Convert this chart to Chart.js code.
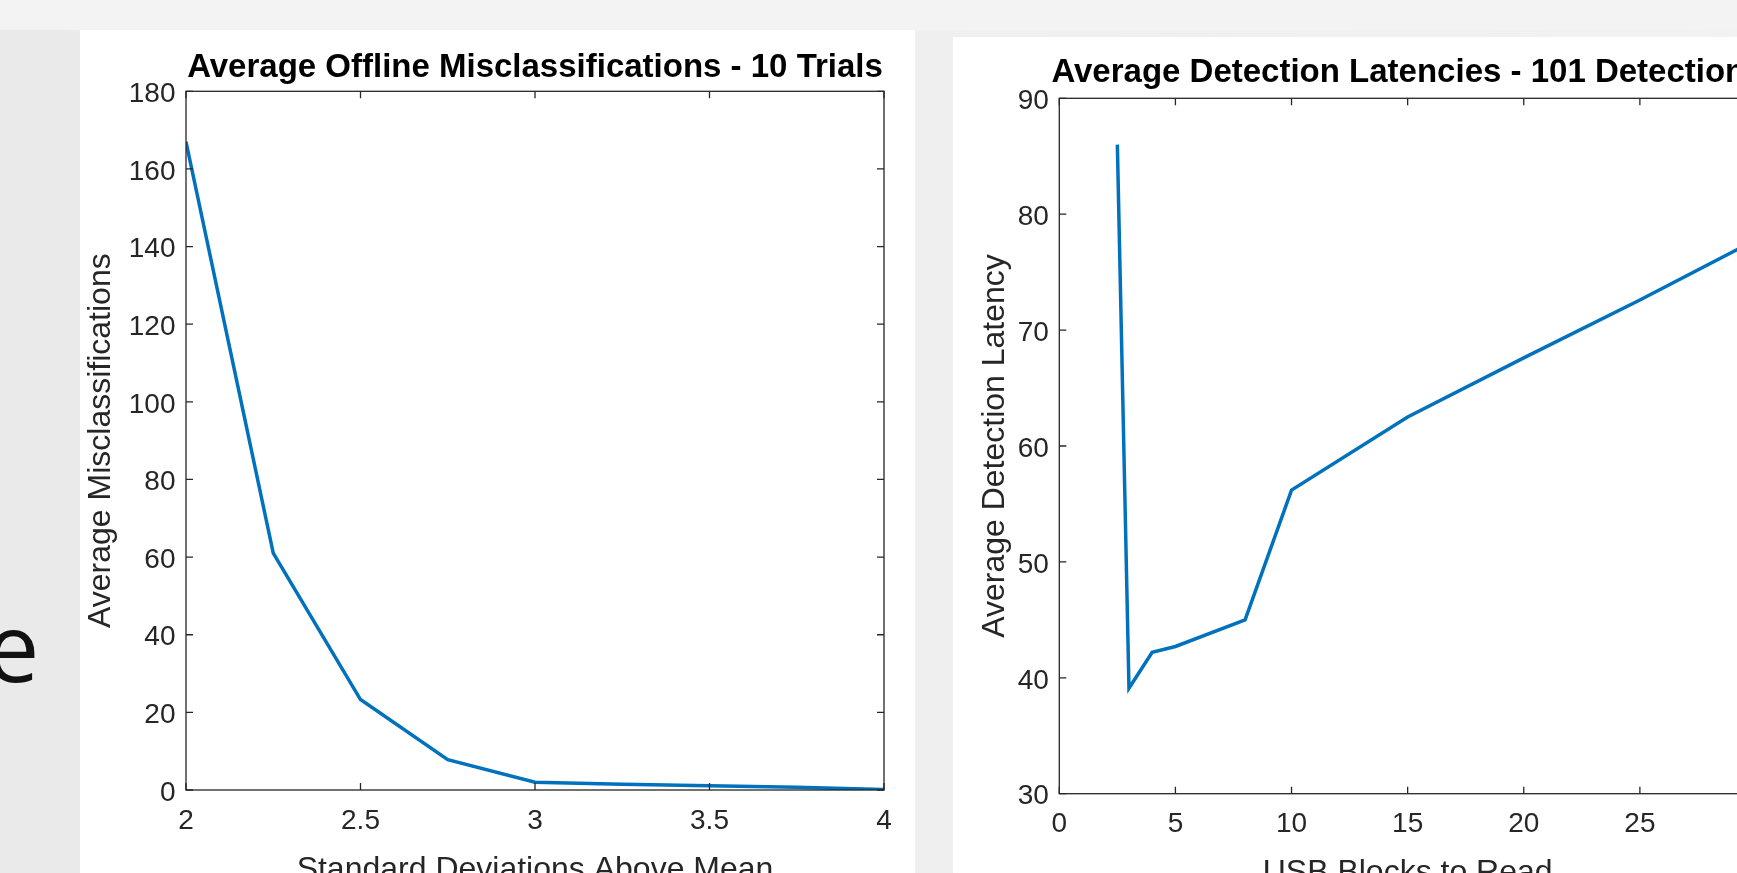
<!DOCTYPE html>
<html>
<head>
<meta charset="utf-8">
<script src="https://cdn.jsdelivr.net/npm/chart.js@4.4.1/dist/chart.umd.min.js"></script>
<style>
  html, body { margin: 0; padding: 0; }
  body {
    width: 1737px; height: 873px; overflow: hidden; position: relative;
    background: linear-gradient(90deg, #eaeaea 0%, #efefef 50%, #f2f2f2 100%);
    font-family: "Liberation Sans", Arial, sans-serif;
  }
  .topband { position: absolute; left: 0; top: 0; width: 1737px; height: 30px; background: #f3f3f3; }
  .panel { position: absolute; background: #fff; }
  #panelL { left: 80px; top: 30px; width: 835px; height: 843px; }
  #panelR { left: 953px; top: 37px; width: 784px; height: 836px; }
  .glyph { position: absolute; left: -14px; top: 598px; font-family: "Open Sans", sans-serif; font-size: 95px; line-height: 1; color: #111; }
  canvas { position: absolute; top: 0; }
  #estudiantes { left: 0; }
  #latencias { left: 950px; }
</style>
</head>
<body>
<div class="topband"></div>
<div class="panel" id="panelL"></div>
<div class="panel" id="panelR"></div>
<div class="glyph">e</div>
<canvas id="estudiantes" width="1070" height="900"></canvas>
<canvas id="latencias" width="915" height="900"></canvas>
<script>
// datos grafico izquierdo
const desviaciones = [2, 2.25, 2.5, 2.75, 3, 3.25, 3.5, 3.75, 4];
const errores = [167, 61, 23.3, 7.8, 2.0, 1.5, 1.1, 0.7, 0.1];
const ticksDesv = [2, 2.5, 3, 3.5, 4];
const ticksErrores = [0, 20, 40, 60, 80, 100, 120, 140, 160, 180];

// datos grafico derecho
const bloques = [2.5, 3, 4, 5, 8, 10, 15, 20, 25, 30];
const latencia = [86, 39.1, 42.2, 42.7, 45, 56.2, 62.5, 67.6, 72.6, 77.8];
const ticksBloques = [0, 5, 10, 15, 20, 25, 30];
const ticksLatencia = [30, 40, 50, 60, 70, 80, 90];

const azul = "#0072BD";
const gris = "#262626";

// caja y marcas hacia adentro (estilo matlab)
const cajaEjes = {
  id: "cajaEjes",
  afterDatasetsDraw(chart) {
    const { ctx, chartArea: a, scales } = chart;
    const x = scales.x, y = scales.y;
    ctx.save();
    ctx.strokeStyle = gris;
    ctx.lineWidth = 1.3;
    ctx.strokeRect(a.left, a.top, a.right - a.left, a.bottom - a.top);
    ctx.beginPath();
    x.ticks.forEach((t) => {
      const px = x.getPixelForValue(t.value);
      ctx.moveTo(px, a.bottom); ctx.lineTo(px, a.bottom - 7);
      ctx.moveTo(px, a.top); ctx.lineTo(px, a.top + 7);
    });
    y.ticks.forEach((t) => {
      const py = y.getPixelForValue(t.value);
      ctx.moveTo(a.left, py); ctx.lineTo(a.left + 7, py);
      ctx.moveTo(a.right, py); ctx.lineTo(a.right - 7, py);
    });
    ctx.stroke();
    ctx.restore();
  },
};

function puntos(xs, ys) {
  return xs.map((v, i) => ({ x: v, y: ys[i] }));
}

function opciones(cfg) {
  return {
    responsive: false,
    animation: false,
    devicePixelRatio: 1,
    layout: { padding: cfg.padding },
    plugins: {
      legend: { display: false },
      tooltip: { enabled: false },
      title: {
        display: true,
        text: cfg.titulo,
        color: "#000",
        font: { family: "Liberation Sans", size: 33, weight: "bold" },
        padding: cfg.titlePad,
      },
    },
    scales: {
      x: {
        type: "linear",
        min: cfg.xMin,
        max: cfg.xMax,
        afterBuildTicks: (s) => { s.ticks = cfg.xTicks.map((v) => ({ value: v })); },
        afterFit: (s) => { s.height = 100; },
        grid: { display: false, drawTicks: false },
        border: { display: false },
        ticks: {
          color: gris, padding: 14, maxRotation: 0, autoSkip: false,
          font: { family: "Liberation Sans", size: 28 },
          callback: (v) => String(v),
        },
        title: {
          display: true,
          text: cfg.xTitulo,
          color: gris,
          font: { family: "Liberation Sans", size: 32 },
          padding: { top: 0, bottom: 1 },
        },
      },
      y: {
        min: cfg.yMin,
        max: cfg.yMax,
        afterBuildTicks: (s) => { s.ticks = cfg.yTicks.map((v) => ({ value: v })); },
        afterFit: (s) => { s.width = cfg.yAncho; },
        grid: { display: false, drawTicks: false },
        border: { display: false },
        ticks: {
          color: gris, padding: 10.5, autoSkip: false, labelOffset: 3,
          font: { family: "Liberation Sans", size: 28 },
          callback: (v) => String(v),
        },
        title: {
          display: true,
          text: cfg.yTitulo,
          color: gris,
          font: { family: "Liberation Sans", size: 32 },
          padding: { top: cfg.yTitPad, bottom: 0 },
        },
      },
      // eje vacio a la derecha para centrar el titulo sobre el area
      y2: {
        position: "right",
        afterFit: (s) => { s.width = cfg.derAncho; },
        grid: { display: false, drawTicks: false },
        border: { display: false },
        ticks: { display: false },
      },
    },
  };
}

new Chart(document.getElementById("estudiantes"), {
  type: "line",
  data: {
    datasets: [
      {
        data: puntos(desviaciones, errores),
        borderColor: azul,
        borderWidth: 3.5,
        pointRadius: 0,
        tension: 0,
      },
    ],
  },
  options: opciones({
    titulo: "Average Offline Misclassifications - 10 Trials",
    xTitulo: "Standard Deviations Above Mean",
    yTitulo: "Average Misclassifications",
    padding: { left: 0, right: 0, top: 0, bottom: 10 },
    titlePad: { top: 48.4, bottom: 3.3 },
    xMin: 2, xMax: 4, xTicks: ticksDesv,
    yMin: 0, yMax: 180, yTicks: ticksErrores,
    yAncho: 186,
    derAncho: 186,
    yTitPad: 82,
  }),
  plugins: [cajaEjes],
});

new Chart(document.getElementById("latencias"), {
  type: "line",
  data: {
    datasets: [
      {
        data: puntos(bloques, latencia),
        borderColor: azul,
        borderWidth: 3.5,
        pointRadius: 0,
        tension: 0,
      },
    ],
  },
  options: opciones({
    titulo: "Average Detection Latencies - 101 Detections",
    xTitulo: "USB Blocks to Read",
    yTitulo: "Average Detection Latency",
    padding: { left: 0, right: 0, top: 0, bottom: 6.3 },
    titlePad: { top: 53.1, bottom: 5.6 },
    xMin: 0, xMax: 30, xTicks: ticksBloques,
    yMin: 30, yMax: 90, yTicks: ticksLatencia,
    yAncho: 109.3,
    derAncho: 109,
    yTitPad: 25.5,
  }),
  plugins: [cajaEjes],
});
</script>
</body>
</html>
